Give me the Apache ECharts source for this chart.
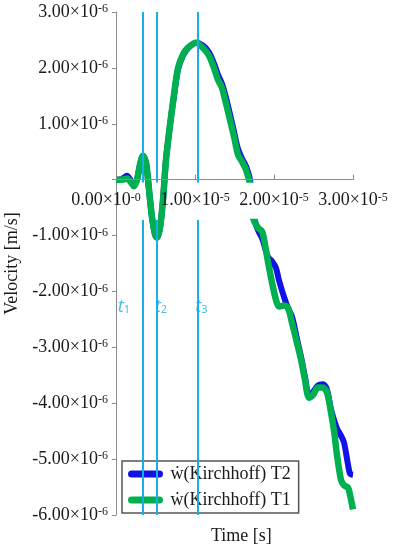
<!DOCTYPE html>
<html lang="en">

<head>
    <meta charset="UTF-8">
    <title>Velocity</title>
    <script src="https://cdn.jsdelivr.net/npm/echarts@6.0.0/dist/echarts.min.js"></script>
    <style>
        html, body { margin: 0; padding: 0; background: #fff; }
        #container { width: 396px; height: 550px; }
    </style>
</head>

<body>
    <div id="container"></div>
    <script type="text/javascript">
        // time in 1e-6 s, velocity in 1e-6 m/s
        var time = [0, 0.76, 1.39, 1.9, 2.28, 2.66, 3.04, 3.42, 3.8, 4.18, 4.56, 4.94, 5.19, 5.57, 5.95, 6.33, 6.84, 7.34, 7.85, 8.48,
            9.11, 10.13, 11.0, 11.77, 12.4, 12.9, 13.4, 13.9, 14.43, 14.94, 15.44, 15.95, 16.46, 16.96, 17.34, 17.97, 18.5, 18.86, 19.24, 19.75,
            20.25, 20.63, 21.27, 21.77, 22.28, 22.91, 23.42, 23.92, 24.43, 24.94, 25.57, 26.2, 26.71, 27.2, 27.6, 27.97, 28.48, 28.86, 29.37, 29.62, 30];
        var velT1 = [0, 0, 0.02, -0.05, -0.12, 0, 0.27, 0.43, 0.3, -0.18, -0.68, -0.98, -1.04, -0.86, -0.36, 0.36, 0.98, 1.52, 2.0, 2.24,
            2.36, 2.45, 2.36, 2.22, 2.0, 1.79, 1.65, 1.38, 1.07, 0.77, 0.45, 0.32, 0.18, -0.09, -0.68, -0.86, -0.93, -1.16, -1.47, -1.84,
            -2.15, -2.27, -2.25, -2.29, -2.56, -2.92, -3.22, -3.58, -3.9, -3.85, -3.72, -3.72, -3.81, -4.15, -4.5, -4.92, -5.37, -5.47, -5.51, -5.64, -5.9];
        var velT2 = [0, 0.01, 0.07, -0.02, -0.1, 0, 0.27, 0.43, 0.3, -0.18, -0.68, -0.98, -1.04, -0.86, -0.36, 0.36, 0.98, 1.5, 1.97, 2.22,
            2.35, 2.45, 2.4, 2.28, 2.08, 1.88, 1.72, 1.48, 1.17, 0.86, 0.55, 0.38, 0.24, 0, -0.6, -0.9, -1.05, -1.22, -1.38, -1.46,
            -1.58, -1.8, -2.1, -2.3, -2.45, -2.85, -3.17, -3.53, -3.86, -3.8, -3.68, -3.66, -3.76, -4.1, -4.3, -4.45, -4.58, -4.7, -5.1, -5.26, -5.28];

        var nameT1 = '\u1E87(Kirchhoff) T1';
        var nameT2 = '\u1E87(Kirchhoff) T2';

        // marked instants t1, t2, t3
        var tLines = [3.4, 5.2, 10.4];
        var tNames = ['1', '2', '3'];
        var tLabelX = [1.0, 5.7, 10.8];
        var tLabelY = -2.27;

        var serif = "'Liberation Serif', 'DejaVu Serif', serif";

        function zip(xs, ys) {
            var out = [];
            for (var i = 0; i < xs.length; i++) out.push([xs[i], ys[i]]);
            return out;
        }

        var lineData = [];
        for (var i = 0; i < tLines.length; i++) {
            lineData.push([{ coord: [tLines[i], 3] }, { coord: [tLines[i], -0.05] }]);
            lineData.push([{ coord: [tLines[i], -0.72] }, { coord: [tLines[i], -6] }]);
        }
        var labelData = [];
        for (var i = 0; i < tNames.length; i++) {
            labelData.push({ value: [tLabelX[i], tLabelY], sub: tNames[i] });
        }

        var ink = '#1a1a1a';
        var yRich = {
            a: { fontFamily: serif, fontSize: 18, color: ink },
            b: { fontFamily: serif, fontSize: 12, color: ink, verticalAlign: 'top', lineHeight: 10 }
        };
        // x labels: padded boxes, the 2.00 one is white-backed over the curves
        var xRich = {
            a: { fontFamily: serif, fontSize: 18, color: ink, padding: [9, 0, 9, 0] },
            w: { fontFamily: serif, fontSize: 18, color: ink, padding: [9, 0, 9, 0], backgroundColor: '#fff' },
            b: { fontFamily: serif, fontSize: 12, color: ink, verticalAlign: 'top', lineHeight: 10, padding: [9, 0, 0, 0] },
            p: { width: 20 }
        };

        var gridTop = 12, gridBottom = 35, yMin = -6, yMax = 3;
        var plotH = 550 - gridTop - gridBottom;
        // x axis sits on velocity 0, moved up from the bottom edge
        var xOffset = -plotH * (0 - yMin) / (yMax - yMin);

        var dom = document.getElementById('container');
        var myChart = echarts.init(dom);
        var option = {
            animation: false,
            title: {
                text: 'Time [s]',
                left: 206,
                top: 522,
                textStyle: { fontFamily: serif, fontSize: 18, fontWeight: 'normal', color: ink }
            },
            legend: {
                data: [nameT2, nameT1],
                orient: 'vertical',
                left: 122,
                top: 461,
                padding: [4, 8, 4, 6],
                itemGap: 8,
                itemWidth: 40,
                itemHeight: 7,
                icon: 'path://M4,0 L36,0 A4,4 0 0 1 36,8 L4,8 A4,4 0 0 1 4,0 Z',
                backgroundColor: '#fff',
                borderColor: '#555',
                borderWidth: 1.5,
                textStyle: { fontFamily: serif, fontSize: 18, color: ink }
            },
            grid: { left: 116, right: 43, top: gridTop, bottom: gridBottom, outerBoundsMode: 'none' },
            xAxis: {
                type: 'value',
                position: 'bottom',
                offset: xOffset,
                min: 0,
                max: 30,
                interval: 10,
                z: 10,
                axisLine: { onZero: false, lineStyle: { color: '#8c8c8c' } },
                axisTick: { inside: true, length: 5, lineStyle: { color: '#8c8c8c' } },
                splitLine: { show: false },
                axisLabel: {
                    margin: 3,
                    formatter: function (v) {
                        var n = Math.round(v / 10);
                        if (n === 0) return '{a|0.00\u00D710}{b|-0}{p| }';
                        var main = n === 2 ? 'w' : 'a';
                        return '{' + main + '|' + n + '.00\u00D710}{b|-5}';
                    },
                    rich: xRich
                }
            },
            yAxis: {
                type: 'value',
                min: yMin,
                max: yMax,
                interval: 1,
                name: 'Velocity [m/s]',
                nameLocation: 'middle',
                nameGap: 94,
                nameTextStyle: { fontFamily: serif, fontSize: 18, color: ink },
                axisLine: { show: true, onZero: false, lineStyle: { color: '#8c8c8c' } },
                axisTick: { show: true, length: 4, lineStyle: { color: '#8c8c8c' } },
                splitLine: { show: false },
                axisLabel: {
                    margin: 8,
                    formatter: function (v) {
                        var n = Math.round(v);
                        if (n === 0) return '';
                        return '{a|' + n + '.00\u00D710}{b|-6}';
                    },
                    rich: yRich
                }
            },
            series: [
                {
                    name: nameT2,
                    type: 'line',
                    data: zip(time, velT2),
                    color: '#1212e6',
                    showSymbol: false,
                    smooth: 0.3,
                    lineStyle: { width: 6, color: '#1212e6' }
                },
                {
                    name: nameT1,
                    type: 'line',
                    data: zip(time, velT1),
                    color: '#00b050',
                    showSymbol: false,
                    smooth: 0.3,
                    lineStyle: { width: 6.5, color: '#00b050' }
                },
                {
                    name: 'marks',
                    type: 'scatter',
                    data: labelData,
                    symbolSize: 0,
                    silent: true,
                    label: {
                        show: true,
                        position: 'inside',
                        formatter: function (p) { return '{t|t}{s|' + p.data.sub + '}'; },
                        rich: {
                            t: { fontFamily: "'Noto Sans', sans-serif", fontStyle: 'italic', fontSize: 18, color: '#1aaee8' },
                            s: { fontFamily: "'Noto Sans', sans-serif", fontSize: 11, color: '#1aaee8', verticalAlign: 'bottom' }
                        }
                    },
                    markLine: {
                        silent: true,
                        symbol: ['none', 'none'],
                        label: { show: false },
                        lineStyle: { color: '#1aaee8', width: 2, type: 'solid' },
                        data: lineData
                    }
                }
            ]
        };
        myChart.setOption(option);
    </script>
</body>

</html>
